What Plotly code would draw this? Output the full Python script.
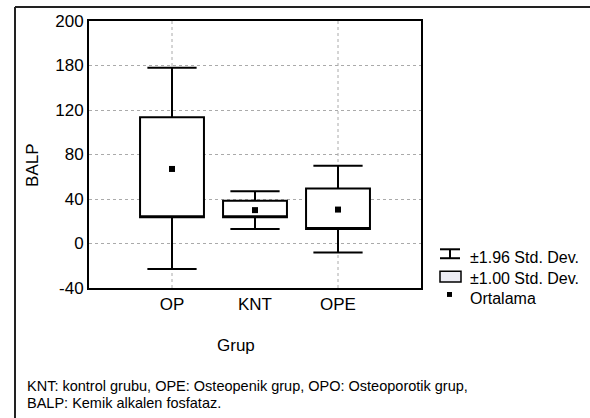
import plotly.graph_objects as go

# ---- data ----
categories = ["OP", "KNT", "OPE"]
means = [67, 30, 30.5]
sd1_low = [23.5, 23.5, 13]        # mean - 1.00 SD (box bottom)
sd1_high = [113.5, 38.5, 49.5]    # mean + 1.00 SD (box top)
sd196_low = [-23, 13, -8]         # mean - 1.96 SD (lower whisker)
sd196_high = [158, 47, 70]        # mean + 1.96 SD (upper whisker)

y_tickvals = [-40, 0, 40, 80, 120, 160, 200]
y_ticktext = ["-40", "0", "40", "80", "120", "180", "200"]
vgrid_categories = ["OP", "OPE"]

legend_labels = ["\u00b11.96 Std. Dev.", "\u00b11.00 Std. Dev.", "Ortalama"]
footnote_lines = [
    "KNT: kontrol grubu, OPE: Osteopenik grup, OPO: Osteoporotik grup,",
    "BALP: Kemik alkalen fosfataz.",
]

FONT = "Liberation Sans, Arial, Helvetica, sans-serif"
W, H = 590, 418
L, R, T, B = 89, 421, 19, 288  # plot area in pixels


def px(x):
    return (x - L) / (R - L)


def py(y):
    return (B - y) / (B - T)


fig = go.Figure()

fig.add_trace(go.Box(
    x=categories,
    q1=sd1_low,
    q3=sd1_high,
    median=sd1_low,
    lowerfence=sd196_low,
    upperfence=sd196_high,
    width=0.77,
    whiskerwidth=0.77,
    fillcolor="white",
    line=dict(color="black", width=2),
    boxpoints=False,
    hoverinfo="skip",
    showlegend=False,
))

fig.add_trace(go.Scatter(
    x=categories,
    y=means,
    mode="markers",
    marker=dict(symbol="square", size=6, color="black"),
    showlegend=False,
    hoverinfo="skip",
))

shapes = []
# vertical dotted grid lines
for c in vgrid_categories:
    i = categories.index(c)
    shapes.append(dict(type="line", xref="x", yref="paper", x0=i, x1=i, y0=0, y1=1,
                       line=dict(color="#aaaaaa", width=1, dash="dot"), layer="below"))

# outer frame (left and top edges visible)
shapes.append(dict(type="line", xref="paper", yref="paper",
                   x0=px(15), x1=px(15), y0=py(5), y1=py(425),
                   line=dict(color="#222222", width=2)))
shapes.append(dict(type="line", xref="paper", yref="paper",
                   x0=px(15), x1=px(600), y0=py(5), y1=py(5),
                   line=dict(color="#222222", width=2)))

# legend icons
shapes.append(dict(type="line", xref="paper", yref="paper",
                   x0=px(440), x1=px(460), y0=py(249), y1=py(249),
                   line=dict(color="black", width=2)))
shapes.append(dict(type="line", xref="paper", yref="paper",
                   x0=px(440), x1=px(460), y0=py(258), y1=py(258),
                   line=dict(color="black", width=2)))
shapes.append(dict(type="line", xref="paper", yref="paper",
                   x0=px(450), x1=px(450), y0=py(249), y1=py(258),
                   line=dict(color="black", width=2)))
shapes.append(dict(type="rect", xref="paper", yref="paper",
                   x0=px(440), x1=px(461), y0=py(282), y1=py(271),
                   line=dict(color="black", width=1.5), fillcolor="#ebebf3"))
shapes.append(dict(type="rect", xref="paper", yref="paper",
                   x0=px(447), x1=px(452), y0=py(297), y1=py(292),
                   line=dict(color="black", width=0), fillcolor="black"))

annotations = []
for lab, yy in zip(legend_labels, [257, 278, 299]):
    annotations.append(dict(text=lab, xref="paper", yref="paper", x=px(468), y=py(yy),
                            xanchor="left", yanchor="middle", showarrow=False,
                            font=dict(family=FONT, size=16, color="black")))

annotations.append(dict(text="Grup", xref="paper", yref="paper", x=px(236), y=py(346),
                        xanchor="center", yanchor="middle", showarrow=False,
                        font=dict(family=FONT, size=17, color="black")))
annotations.append(dict(text="BALP", xref="paper", yref="paper", x=px(33), y=py(165),
                        xanchor="center", yanchor="middle", showarrow=False, textangle=-90,
                        font=dict(family=FONT, size=17, color="black")))
for line, yy in zip(footnote_lines, [387, 404]):
    annotations.append(dict(text=line, xref="paper", yref="paper", x=px(25), y=py(yy),
                            xanchor="left", yanchor="middle", showarrow=False,
                            font=dict(family=FONT, size=14.5, color="black")))

fig.update_layout(
    width=W, height=H,
    margin=dict(l=L, r=W - R, t=T, b=H - B, pad=0),
    paper_bgcolor="white", plot_bgcolor="white",
    font=dict(family=FONT, color="black"),
    shapes=shapes,
    annotations=annotations,
    showlegend=False,
    xaxis=dict(
        type="category", range=[-1, 3],
        showgrid=False, zeroline=False,
        showline=True, mirror=True, linecolor="black", linewidth=2,
        ticks="", tickfont=dict(family=FONT, size=17, color="black"),
    ),
    yaxis=dict(
        range=[-40, 200],
        tickvals=y_tickvals, ticktext=y_ticktext,
        showgrid=True, gridcolor="#aaaaaa", gridwidth=1, griddash="dot",
        zeroline=False,
        showline=True, mirror=True, linecolor="black", linewidth=2,
        ticks="", tickfont=dict(family=FONT, size=17, color="black"),
    ),
)

fig.write_html("out.html", config={"displayModeBar": False},
               post_script="document.body.style.margin='0';document.body.style.overflow='hidden';")
